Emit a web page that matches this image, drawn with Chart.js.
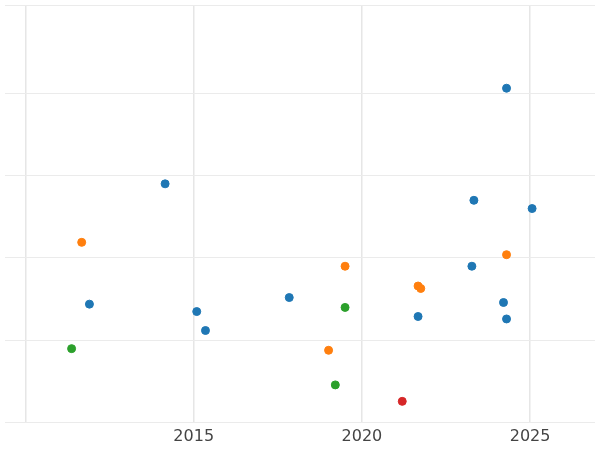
<!DOCTYPE html>
<html><head><script src="https://cdn.jsdelivr.net/npm/chart.js"></script>
<style>body{margin:0;background:#fff}#w{width:600px;height:450px}</style></head>
<body><div id="w"><canvas id="c"></canvas></div>
<script>
const blueX=[2024.30,2014.15,2023.33,2025.06,2023.27,2011.90,2017.84,2015.09,2015.35,2021.67,2024.21,2024.30];
const blueY=[4.06,2.90,2.70,2.60,1.90,1.44,1.52,1.35,1.12,1.29,1.46,1.26];
const orangeX=[2011.67,2019.50,2024.30,2021.67,2021.75,2019.01];
const orangeY=[2.19,1.90,2.04,1.66,1.63,0.88];
const greenX=[2011.37,2019.50,2019.21];
const greenY=[0.90,1.40,0.46];
const redX=[2021.20];
const redY=[0.26];
const xTicks=[2010,2015,2020,2025];
const pts=(xs,ys)=>xs.map((x,i)=>({x,y:ys[i]}));
const ds=(xs,ys,c)=>({data:pts(xs,ys),backgroundColor:c,borderColor:c,pointRadius:4,pointHoverRadius:4});
new Chart(document.getElementById('c'),{type:'scatter',
data:{datasets:[ds(blueX,blueY,'#1f77b4'),ds(orangeX,orangeY,'#ff7f0e'),ds(greenX,greenY,'#2ca02c'),ds(redX,redY,'#d62728')]},
options:{responsive:true,maintainAspectRatio:false,animation:false,layout:{padding:0},
plugins:{legend:{display:false},tooltip:{enabled:false}},
scales:{
x:{type:'linear',min:2009.39,max:2026.93,afterBuildTicks:a=>{a.ticks=xTicks.map(v=>({value:v}));},
ticks:{color:'#444',font:{family:'DejaVu Sans',size:16},callback:v=>v===2010?'':String(v),maxRotation:0,padding:4},
grid:{color:'#e6e6e6',lineWidth:1.5,drawTicks:false},border:{display:false}},
y:{min:0,max:5.07,ticks:{display:false,stepSize:1},grid:{color:'#ebebeb',lineWidth:1,drawTicks:false},border:{display:false}}
}}});
</script></body></html>
